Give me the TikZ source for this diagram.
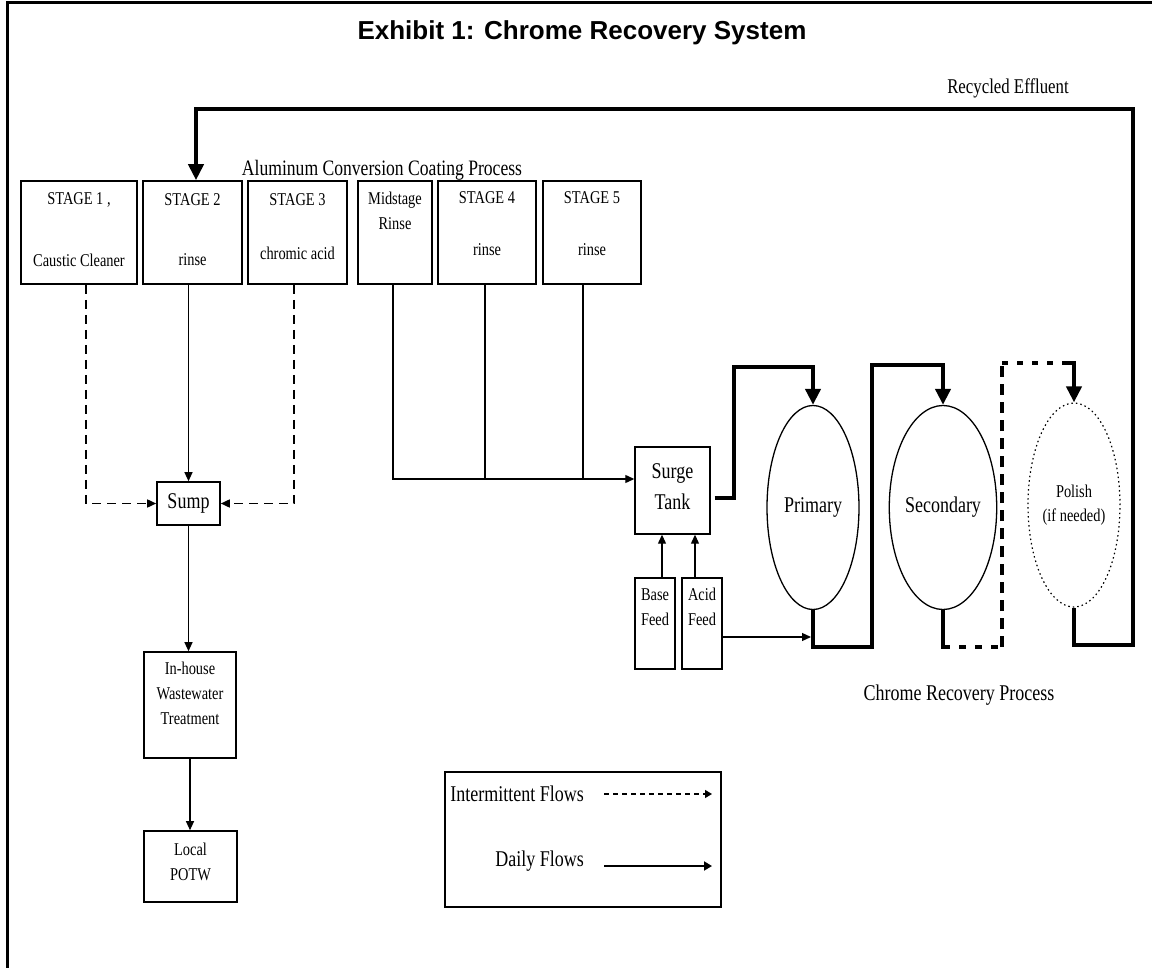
\documentclass[tikz,border=0pt]{standalone}
\usepackage{fontspec}
\setmainfont{Liberation Serif}
\newfontfamily\cond[FakeStretch=0.8]{Liberation Serif}
\newfontfamily\titlefont{Liberation Sans}
\usetikzlibrary{arrows.meta,shapes.geometric}
\tikzset{
  box/.style={draw, line width=1.6pt, inner sep=0pt},
  sm/.style={font=\cond\fontsize{18}{25}\selectfont, inner sep=0pt, align=center},
  lg/.style={font=\cond\fontsize{22.5}{31}\selectfont, inner sep=0pt, align=center},
  daily/.style={line width=1.2pt, -{Triangle[length=9pt,width=8pt]}},
  plain/.style={line width=1.2pt},
  inter/.style={line width=1.6pt, dash pattern=on 9pt off 6pt, -{Triangle[length=9pt,width=8pt]}},
  thickflow/.style={line width=4pt, -{Triangle[length=16pt,width=15pt]}},
  thickline/.style={line width=4pt},
  tank/.style={draw, ellipse, line width=1.3pt, minimum width=92pt, minimum height=204pt, inner sep=0pt},
}
\begin{document}
\begin{tikzpicture}[x=1pt,y=-1pt]
\useasboundingbox (0,0) rectangle (1152,968);
% frame
\draw[line width=3pt] (7,968) -- (7,3) -- (1152,3);
\node[font=\titlefont\bfseries\fontsize{26}{30}\selectfont, inner sep=0pt] (title) at (582,33) {Exhibit 1: Chrome Recovery System};

% stage boxes
\node[box, minimum width=116pt, minimum height=103pt] (s1) at (79,232.5) {};
\node[box, minimum width=99pt, minimum height=103pt] (s2) at (192.5,232.5) {};
\node[box, minimum width=99pt, minimum height=103pt] (s3) at (297.5,232.5) {};
\node[box, minimum width=74pt, minimum height=103pt] (mid) at (395,232.5) {};
\node[box, minimum width=98pt, minimum height=103pt] (s4) at (487,232.5) {};
\node[box, minimum width=98pt, minimum height=103pt] (s5) at (592,232.5) {};
\node[sm] (t1a) at (79,200) {STAGE 1 ,};
\node[sm] (t1b) at (79,260) {Caustic Cleaner};
\node[sm] (t2a) at (192.5,200) {STAGE 2};
\node[sm] (t2b) at (192.5,260) {rinse};
\node[sm] (t3a) at (297.5,200) {STAGE 3};
\node[sm] (t3b) at (297.5,253) {chromic acid};
\node[sm] (tm) at (395,211) {Midstage\\Rinse};
\node[sm] (t4a) at (487,198) {STAGE 4};
\node[sm] (t4b) at (487,250) {rinse};
\node[sm] (t5a) at (592,198) {STAGE 5};
\node[sm] (t5b) at (592,250) {rinse};
\node[lg, font=\cond\fontsize{22}{26}\selectfont] (acc) at (382,170) {Aluminum Conversion Coating Process};
\node[sm, font=\cond\fontsize{21}{24}\selectfont] (rec) at (1008,88) {Recycled Effluent};

% left branch
\node[box, minimum width=63pt, minimum height=43pt] (sump) at (188.5,503.5) {};
\node[lg] (tsump) at (188.5,503) {Sump};
\node[box, minimum width=92pt, minimum height=106pt] (inh) at (190,705) {};
\node[sm] (tinh) at (190,693.5) {In-house\\Wastewater\\Treatment};
\node[box, minimum width=93pt, minimum height=71pt] (potw) at (190.5,866.5) {};
\node[sm] (tpotw) at (190.5,862) {Local\\POTW};

% recovery
\node[box, line width=1.4pt, minimum width=75pt, minimum height=87pt] (surge) at (672.5,490.5) {};
\node[lg] (tsurge) at (672.5,487) {Surge\\Tank};
\node[box, line width=1.4pt, minimum width=40pt, minimum height=91pt] (base) at (655,623.5) {};
\node[sm] (tbase) at (655,607) {Base\\Feed};
\node[box, line width=1.4pt, minimum width=40pt, minimum height=91pt] (acid) at (702,623.5) {};
\node[sm] (tacid) at (702,607) {Acid\\Feed};
\node[tank, font=\cond\fontsize{22.5}{26}\selectfont] (primary) at (813,507.5) {Primary};
\node[tank, font=\cond\fontsize{22.5}{26}\selectfont] (secondary) at (943,507.5) {Secondary};
\node[tank, dash pattern=on 1.5pt off 3pt, line width=1.2pt, align=center, font=\cond\fontsize{18}{24}\selectfont] (polish) at (1074,505) {Polish\\(if needed)};
\node[lg] (crp) at (959,695) {Chrome Recovery Process};

% legend
\node[draw, line width=1.4pt, minimum width=276pt, minimum height=135pt, inner sep=0pt] (legend) at (583,839.5) {};
\node[lg, anchor=east] (lint) at (584,794) {Intermittent Flows};
\node[lg, anchor=east] (ldaily) at (584,861) {Daily Flows};
\coordinate (li1) at (604,794); \coordinate (li2) at (712,794);
\coordinate (ld1) at (604,866); \coordinate (ld2) at (712,866);
\draw[line width=1.3pt, dash pattern=on 5pt off 4pt, -{Triangle[length=7pt,width=8pt]}] (li1) -- (li2);
\draw[line width=1.8pt, -{Triangle[length=8pt,width=9pt]}] (ld1) -- (ld2);

% coordinates
\coordinate (d1) at (86,0);
\coordinate (d3) at (294,0);
\coordinate (jm) at (393,479);
\coordinate (j4) at (485,479);
\coordinate (j5) at (583,479);
\coordinate (ba) at (662,0);
\coordinate (aa) at (695,0);
\coordinate (ay) at (0,637);
\coordinate (pout) at (811,637);

% stage drops
\draw[inter] (s1.south -| d1) |- (sump.west);
\draw[inter] (s3.south -| d3) |- (sump.east);
\draw[daily] (sump.north |- s2.south) -- (sump.north);
\draw[daily] (sump.south) -- (sump.south |- inh.north);
\draw[daily] (inh.south) -- (inh.south |- potw.north);

\draw[daily] (mid.south -| jm) -- (jm) -- (surge.west |- jm);
\draw[plain] (s4.south -| j4) -- (j4);
\draw[plain] (s5.south -| j5) -- (j5);

\draw[daily] (base.north -| ba) -- (surge.south -| ba);
\draw[daily] (acid.north -| aa) -- (surge.south -| aa);
\draw[daily] (acid.east |- ay) -- (pout);

% thick recovery flows
\draw[thickflow] ([xshift=4pt,yshift=-7.5pt]surge.east) -- (734,498) -- (734,367) -- (813,367) -- (primary.north);
\draw[thickflow] (primary.south) -- (813,647) -- (872,647) -- (872,365) -- (943,365) -- (secondary.north);
\draw[thickline] (secondary.south) -- (943,649);
\draw[thickline, dash pattern=on 7pt off 9pt] (943,647) -- (1002,647);
\draw[thickline, dash pattern=on 11pt off 7pt] (1002,647) -- (1002,363);
\draw[thickline, dash pattern=on 6pt off 9pt] (1002,363) -- (1064,363);
\draw[thickflow] (1064,363) -- (1074,363) -- (polish.north);
\draw[thickflow] (polish.south) -- (1074,645) -- (1133,645) -- (1133,109) -- (196,109) -- ([xshift=3.5pt]s2.north);
\end{tikzpicture}
\end{document}
